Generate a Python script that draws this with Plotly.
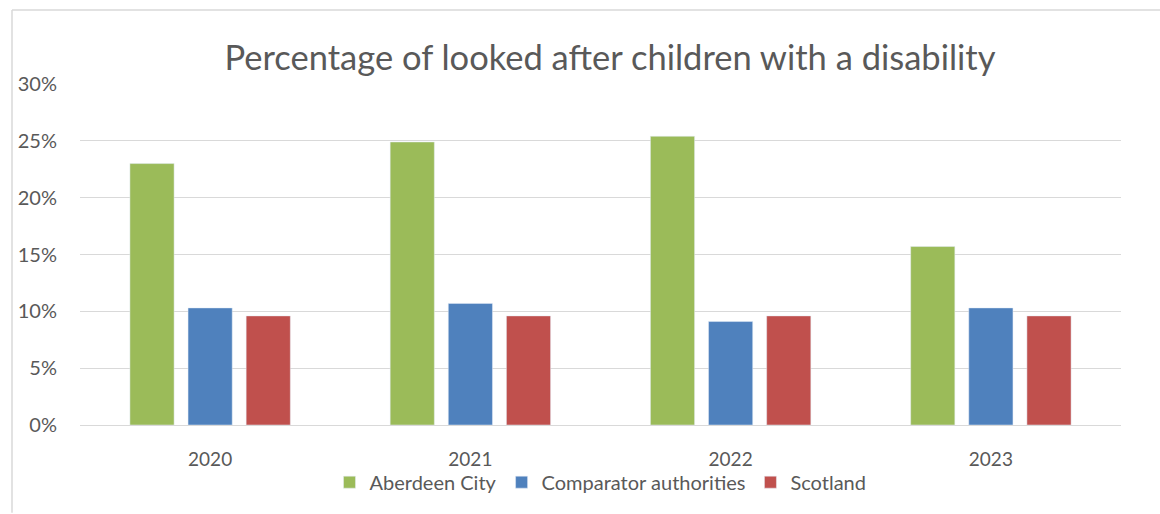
import plotly.graph_objects as go

years = ["2020", "2021", "2022", "2023"]
aberdeen = [23.0, 24.9, 25.4, 15.7]
comparator = [10.3, 10.7, 9.1, 10.3]
scotland = [9.6, 9.6, 9.6, 9.6]

W, H = 1160, 514
ml, mr, mt, mb = 80, 39, 84, 84
pw, ph = W - ml - mr, H - mt - mb

font_fam = "Lato, Open Sans, sans-serif"
grey = "#595959"

fig = go.Figure()
fig.add_bar(x=years, y=aberdeen, name="Aberdeen City", marker_color="#9BBB59")
fig.add_bar(x=years, y=comparator, name="Comparator authorities", marker_color="#4F81BD")
fig.add_bar(x=years, y=scotland, name="Scotland", marker_color="#C0504D")

def px_x(p):
    return (p - ml) / pw

def px_y(p):
    return (H - mb - p) / ph

border = "#d9d9d9"
shapes = [
    dict(type="line", xref="paper", yref="paper", x0=px_x(12), x1=px_x(12), y0=px_y(9), y1=px_y(H + 5),
         line=dict(color=border, width=1.5)),
    dict(type="line", xref="paper", yref="paper", x0=px_x(12), x1=px_x(W + 5), y0=px_y(9), y1=px_y(9),
         line=dict(color=border, width=1.5)),
]

fig.update_layout(
    width=W, height=H,
    margin=dict(l=ml, r=mr, t=mt, b=mb),
    paper_bgcolor="white", plot_bgcolor="white",
    barmode="group", bargap=0.33, bargroupgap=0.24,
    title=dict(text="Percentage of looked after children with a disability",
               xref="container", x=610 / W, xanchor="center", y=1 - 58 / H, yanchor="middle",
               font=dict(family=font_fam, size=34.5, color=grey)),
    font=dict(family=font_fam, size=19, color=grey),
    xaxis=dict(showgrid=False, showline=False, ticks="", tickfont=dict(size=19, color=grey),
               ticklabelstandoff=21),
    yaxis=dict(range=[0, 30], dtick=5, ticksuffix="%", showgrid=True, gridcolor="#d9d9d9", gridwidth=1.3,
               zeroline=True, zerolinecolor="#d9d9d9", zerolinewidth=1.3,
               tickfont=dict(size=20, color=grey), ticklabelstandoff=22),
    legend=dict(orientation="h", x=0.5, xanchor="center", y=px_y(488), yanchor="middle",
                font=dict(size=20, color=grey), itemwidth=30, traceorder="normal",
                bgcolor="rgba(0,0,0,0)"),
    shapes=shapes,
    showlegend=True,
)

fig.write_html("out.html")
